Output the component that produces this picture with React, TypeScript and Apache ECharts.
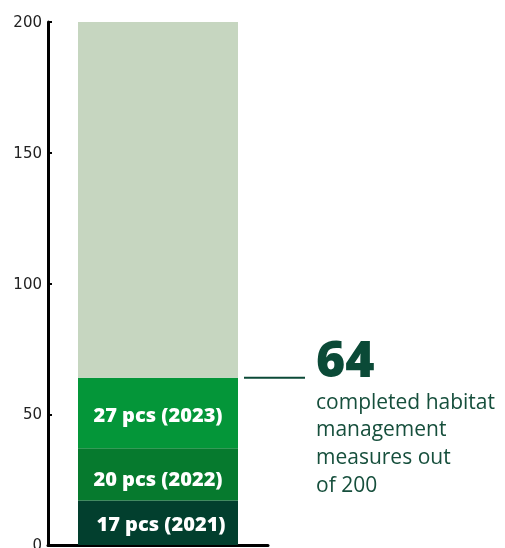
import React, { useEffect, useRef } from "react";
import * as echarts from "echarts";

const categories = ["Habitat management measures"];
const total = [200];
const years = ["2021", "2022", "2023"];
const values2021 = [17];
const values2022 = [20];
const values2023 = [27];
const yTicks = [0, 50, 100, 150, 200];
const annotationLines = ["completed habitat", "management", "measures out", "of 200"];

const colors = {
  remaining: "#c6d6c0",
  y2021: "#023f2e",
  y2022: "#067a2e",
  y2023: "#049639",
  dark: "#0b4a37",
  text: "#164f3c",
};

export default function App() {
  const ref = useRef<HTMLDivElement>(null);
  useEffect(() => {
    if (!ref.current) return;
    const chart = echarts.init(ref.current, null, { renderer: "svg" });
    const done = values2021[0] + values2022[0] + values2023[0];
    const remaining = [total[0] - done];
    const label = (year: string, offset: number[]) => ({
      show: true,
      position: "inside",
      offset,
      color: "#ffffff",
      fontFamily: "Open Sans",
      fontWeight: 800,
      fontSize: 20,
      formatter: (p: any) => `${p.value} pcs (${year})`,
    });
    chart.setOption({
      animation: false,
      grid: { left: 48, right: 237, top: 22, bottom: 3, containLabel: false, outerBoundsMode: "none" },
      xAxis: {
        type: "category",
        data: categories,
        axisLine: { show: true, lineStyle: { color: "#000", width: 3 } },
        axisTick: { show: false },
        axisLabel: { show: false },
      },
      yAxis: {
        type: "value",
        min: yTicks[0],
        max: yTicks[yTicks.length - 1],
        interval: yTicks[1] - yTicks[0],
        axisLine: { show: true, lineStyle: { color: "#000", width: 3 } },
        axisTick: { show: true, inside: true, length: 4, lineStyle: { color: "#000", width: 2 } },
        axisLabel: { color: "#222", fontSize: 15, fontFamily: "DejaVu Sans", margin: 6 },
        splitLine: { show: false },
      },
      series: [
        { name: years[0], type: "bar", stack: "s", barWidth: 160, data: values2021, itemStyle: { color: colors.y2021 }, label: label(years[0], [3, 1]) },
        { name: years[1], type: "bar", stack: "s", data: values2022, itemStyle: { color: colors.y2022 }, label: label(years[1], [0, 4]) },
        { name: years[2], type: "bar", stack: "s", data: values2023, itemStyle: { color: colors.y2023 }, label: label(years[2], [0, 2]) },
        { name: "remaining", type: "bar", stack: "s", data: remaining, itemStyle: { color: colors.remaining }, label: { show: false } },
      ],
    });
    const pt = chart.convertToPixel({ xAxisIndex: 0, yAxisIndex: 0 }, [0, done]) as number[];
    const barRight = pt[0] + 80;
    const y = pt[1];
    chart.setOption({
      graphic: [
        { type: "line", shape: { x1: barRight + 6, y1: y, x2: barRight + 67, y2: y }, style: { stroke: colors.dark, lineWidth: 2 } },
        { type: "text", x: barRight + 78, y: y + 5, style: { text: String(done), fill: colors.dark, fontFamily: "Open Sans", fontWeight: 800, fontSize: 50, textVerticalAlign: "bottom" } },
        ...annotationLines.map((t, i) => ({
          type: "text",
          x: barRight + 78,
          y: y + 23 + i * 27.7,
          style: { text: t, fill: colors.text, fontFamily: "Open Sans", fontSize: 21, textVerticalAlign: "middle" },
        })),
      ],
    });
    return () => chart.dispose();
  }, []);
  return <div ref={ref} style={{ position: "fixed", left: 0, top: 0, width: 505, height: 548 }} />;
}
